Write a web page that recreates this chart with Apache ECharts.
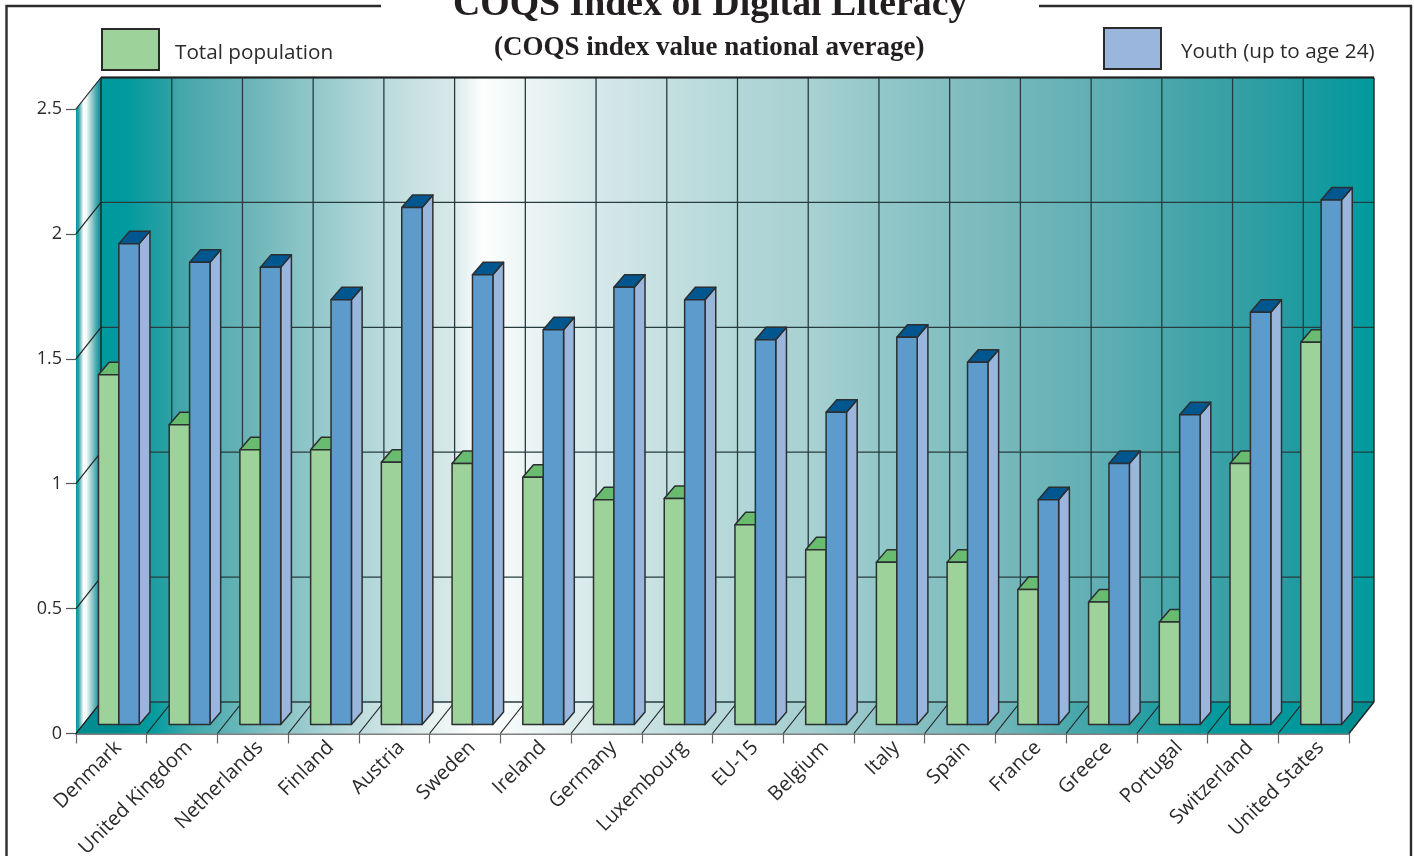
<!DOCTYPE html>
<html>
<head>
<meta charset="utf-8">
<style>html,body{margin:0;padding:0;background:#fff}#c{width:1414px;height:856px}</style>
<script src="https://cdn.jsdelivr.net/npm/echarts@6/dist/echarts.min.js"></script>
</head>
<body>
<div id="c"></div>
<script>
const categories = ['Denmark','United Kingdom','Netherlands','Finland','Austria','Sweden','Ireland','Germany','Luxembourg','EU-15','Belgium','Italy','Spain','France','Greece','Portugal','Switzerland','United States'];
const totalPopulation = [1.40,1.20,1.10,1.10,1.05,1.045,0.99,0.90,0.905,0.80,0.70,0.65,0.65,0.54,0.49,0.41,1.045,1.53];
const youth = [1.925,1.85,1.83,1.70,2.07,1.80,1.58,1.75,1.70,1.54,1.25,1.55,1.45,0.90,1.045,1.24,1.65,2.10];
const yTicks = [0,0.5,1,1.5,2,2.5];
const seriesNames = ['Total population','Youth (up to age 24)'];

const titleText = 'COQS Index of Digital Literacy';
const subtitleText = '(COQS index value national average)';

const DEPTH = [25, -31.5];
const BAR_PLANE = [7, -9];
const BAR_DEPTH = [10.7, -12.5];
const BAR_W = 20.4;
const BAR_OFF = -12.9;
const LINE = '#263c3e';
const EDGE = '#2b2f30';

const stops = (arr) => arr.map(([offset, color]) => ({offset, color}));
const wallStops = stops([[0,'#009a9e'],[0.02,'#009a9e'],[0.055,'#2fa0a4'],[0.06,'#42a6aa'],[0.11,'#66b2b6'],[0.165,'#90c7c9'],[0.22,'#b8dadb'],[0.275,'#d8e8e9'],[0.30,'#fdfefe'],[0.33,'#eef6f6'],[0.385,'#d8e9ea'],[0.44,'#c6e0e1'],[0.50,'#b3d7d8'],[0.56,'#a7d0d1'],[0.62,'#90c6c8'],[0.68,'#7fbcbf'],[0.74,'#6cb4b8'],[0.80,'#5aadb2'],[0.86,'#40a3a8'],[0.92,'#2a9da2'],[0.97,'#0f9a9e'],[1,'#009a9e']]);
const floorStops = stops([[0,'#008c90'],[0.035,'#008c90'],[0.057,'#009a9e'],[0.088,'#3fa8ab'],[0.14,'#78bcbf'],[0.21,'#b8d9da'],[0.263,'#dfecec'],[0.314,'#ffffff'],[0.383,'#e0eded'],[0.47,'#bddcdd'],[0.56,'#a7d0d1'],[0.64,'#88c0c3'],[0.712,'#70b5b8'],[0.766,'#4ba8ac'],[0.82,'#2aa0a4'],[0.874,'#059a9e'],[0.95,'#00989c'],[0.975,'#009296'],[1,'#008a8e']]);
const sideStops = stops([[0,'#009a9e'],[0.1,'#28a0a4'],[0.3,'#ffffff'],[0.42,'#f3f8f8'],[0.8,'#4aa9ad'],[1,'#008c90']]);

function grad(s){ return new echarts.graphic.LinearGradient(0,0,1,0,s); }

function renderWalls(params, api){
  const bw = api.size([1,0])[0];
  const c0 = api.coord([0,0]), cN = api.coord([categories.length-1,0]);
  const x0 = c0[0]-bw/2, x1 = cN[0]+bw/2, yb = c0[1];
  const yt = api.coord([0,2.5])[1];
  const dx = DEPTH[0], dy = DEPTH[1];
  const kids = [];
  const poly = (pts, style) => kids.push({type:'polygon', shape:{points:pts}, style});
  const ln = (a,b,w,col) => kids.push({type:'line', shape:{x1:a[0],y1:a[1],x2:b[0],y2:b[1]}, style:{stroke:col||LINE, lineWidth:w||1.2}});
  poly([[x0+dx,yt+dy],[x1+dx,yt+dy],[x1+dx,yb+dy],[x0+dx,yb+dy]], {fill:grad(wallStops)});
  poly([[x0,yb],[x0+dx,yb+dy],[x1+dx,yb+dy],[x1,yb]], {fill:grad(floorStops)});
  poly([[x0,yb],[x0+dx,yb+dy],[x0+dx,yt+dy],[x0,yt]], {fill:grad(sideStops)});
  yTicks.forEach(t => {
    const y = api.coord([0,t])[1];
    ln([x0+dx,y+dy],[x1+dx,y+dy],1.3);
    ln([x0,y],[x0+dx,y+dy],1.2,'#222');
  });
  categories.forEach((c,i) => {
    const x = api.coord([i,0])[0]-bw/2;
    if(i>0) ln([x+dx,yt+dy],[x+dx,yb+dy],1.3);
    ln([x,yb],[x+dx,yb+dy],1.2,'#222');
  });
  ln([x0+dx,yt+dy],[x0+dx,yb+dy],1.4,'#222');
  ln([x1+dx,yt+dy],[x1+dx,yb+dy],1.4,'#222');
  ln([x0+dx,yt+dy],[x1+dx,yt+dy],1.8,'#222');
  ln([x1,yb],[x1+dx,yb+dy],1.4,'#222');
  return {type:'group', children:kids};
}

function makeBars(slot, front, top, side){
  return function(params, api){
    const c = api.coord([api.value(0), api.value(1)]);
    const b = api.coord([api.value(0), 0]);
    const xl = c[0]+BAR_OFF+slot*BAR_W, xr = xl+BAR_W;
    const yt = c[1]+BAR_PLANE[1], yb = b[1]+BAR_PLANE[1];
    const dx = BAR_DEPTH[0], dy = BAR_DEPTH[1];
    const st = (f) => ({fill:f, stroke:EDGE, lineWidth:1.5, lineJoin:'round'});
    return {type:'group', children:[
      {type:'polygon', shape:{points:[[xr,yt],[xr+dx,yt+dy],[xr+dx,yb+dy],[xr,yb]]}, style:st(side)},
      {type:'polygon', shape:{points:[[xl,yt],[xl+dx,yt+dy],[xr+dx,yt+dy],[xr,yt]]}, style:st(top)},
      {type:'polygon', shape:{points:[[xl,yt],[xr,yt],[xr,yb],[xl,yb]]}, style:st(front)}
    ]};
  };
}

const chart = echarts.init(document.getElementById('c'), null, {renderer:'canvas', width:1414, height:856});
const labelFont = '"Open Sans", sans-serif';
const dataOf = (arr) => arr.map((v,i) => [i,v]);
const legendText = (leftPad) => ({rich:{t:{fontFamily:labelFont, fontSize:20.7, color:'#2b2b2b', padding:[8,0,0,leftPad]}}});
chart.setOption({
  animation:false,
  backgroundColor:'#ffffff',
  title:[
    {text:titleText, left:453, top:-14, padding:0, textStyle:{fontFamily:'"Liberation Serif", serif', fontWeight:'bold', fontSize:37.8, color:'#231f20'}},
    {text:subtitleText, left:494, top:35, padding:0, textStyle:{fontFamily:'"Liberation Serif", serif', fontWeight:'bold', fontSize:27, color:'#231f20'}}
  ],
  legend:[
    {data:[seriesNames[0]], left:101, top:28, padding:0, itemWidth:57, itemHeight:41, icon:'rect', itemGap:0,
     formatter:(n)=>'{t|'+n+'}',
     itemStyle:{color:'#9dd29b', borderColor:'#2a2a2a', borderWidth:2},
     textStyle:legendText(11)},
    {data:[seriesNames[1]], left:1103, top:27, padding:0, itemWidth:57, itemHeight:41, icon:'rect', itemGap:0,
     formatter:(n)=>'{t|'+n+'}',
     itemStyle:{color:'#9ab6dc', borderColor:'#2a2a2a', borderWidth:2},
     textStyle:legendText(15)}
  ],
  grid:{left:76, right:65, top:109, bottom:122.5, containLabel:false, outerBoundsMode:'none'},
  xAxis:{type:'category', data:categories,
    axisLine:{show:true, lineStyle:{color:'#555', width:1.5}},
    axisTick:{show:true, length:10, lineStyle:{color:'#666', width:1.2}},
    axisLabel:{rotate:45, interval:0, margin:18, padding:[0,-10,0,0], fontFamily:labelFont, fontSize:20, color:'#2b2b2b'},
    splitLine:{show:false}},
  yAxis:{type:'value', min:0, max:2.5, interval:0.5,
    axisLine:{show:false},
    axisTick:{show:true, length:10, lineStyle:{color:'#555', width:1.2}},
    axisLabel:{margin:14, fontFamily:labelFont, fontSize:18, color:'#2b2b2b',
      formatter:(v)=>String(v)},
    splitLine:{show:false}},
  graphic:[
    {type:'polyline', silent:true, shape:{points:[[381,6],[6.5,6],[6.5,856]]}, style:{fill:null, stroke:'#2b2b2b', lineWidth:2.4}},
    {type:'polyline', silent:true, shape:{points:[[1039,6],[1411,6],[1411,856]]}, style:{fill:null, stroke:'#2b2b2b', lineWidth:2.4}}
  ],
  series:[
    {type:'custom', name:'walls', data:[[0,0]], encode:{x:0,y:1}, renderItem:renderWalls, silent:true, z:1},
    {type:'custom', name:seriesNames[0], data:dataOf(totalPopulation), encode:{x:0,y:1}, z:2,
     itemStyle:{color:'#9dd29b'}, renderItem:makeBars(0,'#9dd29b','#68bb6f','#9ab6dc')},
    {type:'custom', name:seriesNames[1], data:dataOf(youth), encode:{x:0,y:1}, z:3,
     itemStyle:{color:'#9ab6dc'}, renderItem:makeBars(1,'#5e9bcd','#00568f','#9ab6dc')}
  ]
});
</script>
</body>
</html>
